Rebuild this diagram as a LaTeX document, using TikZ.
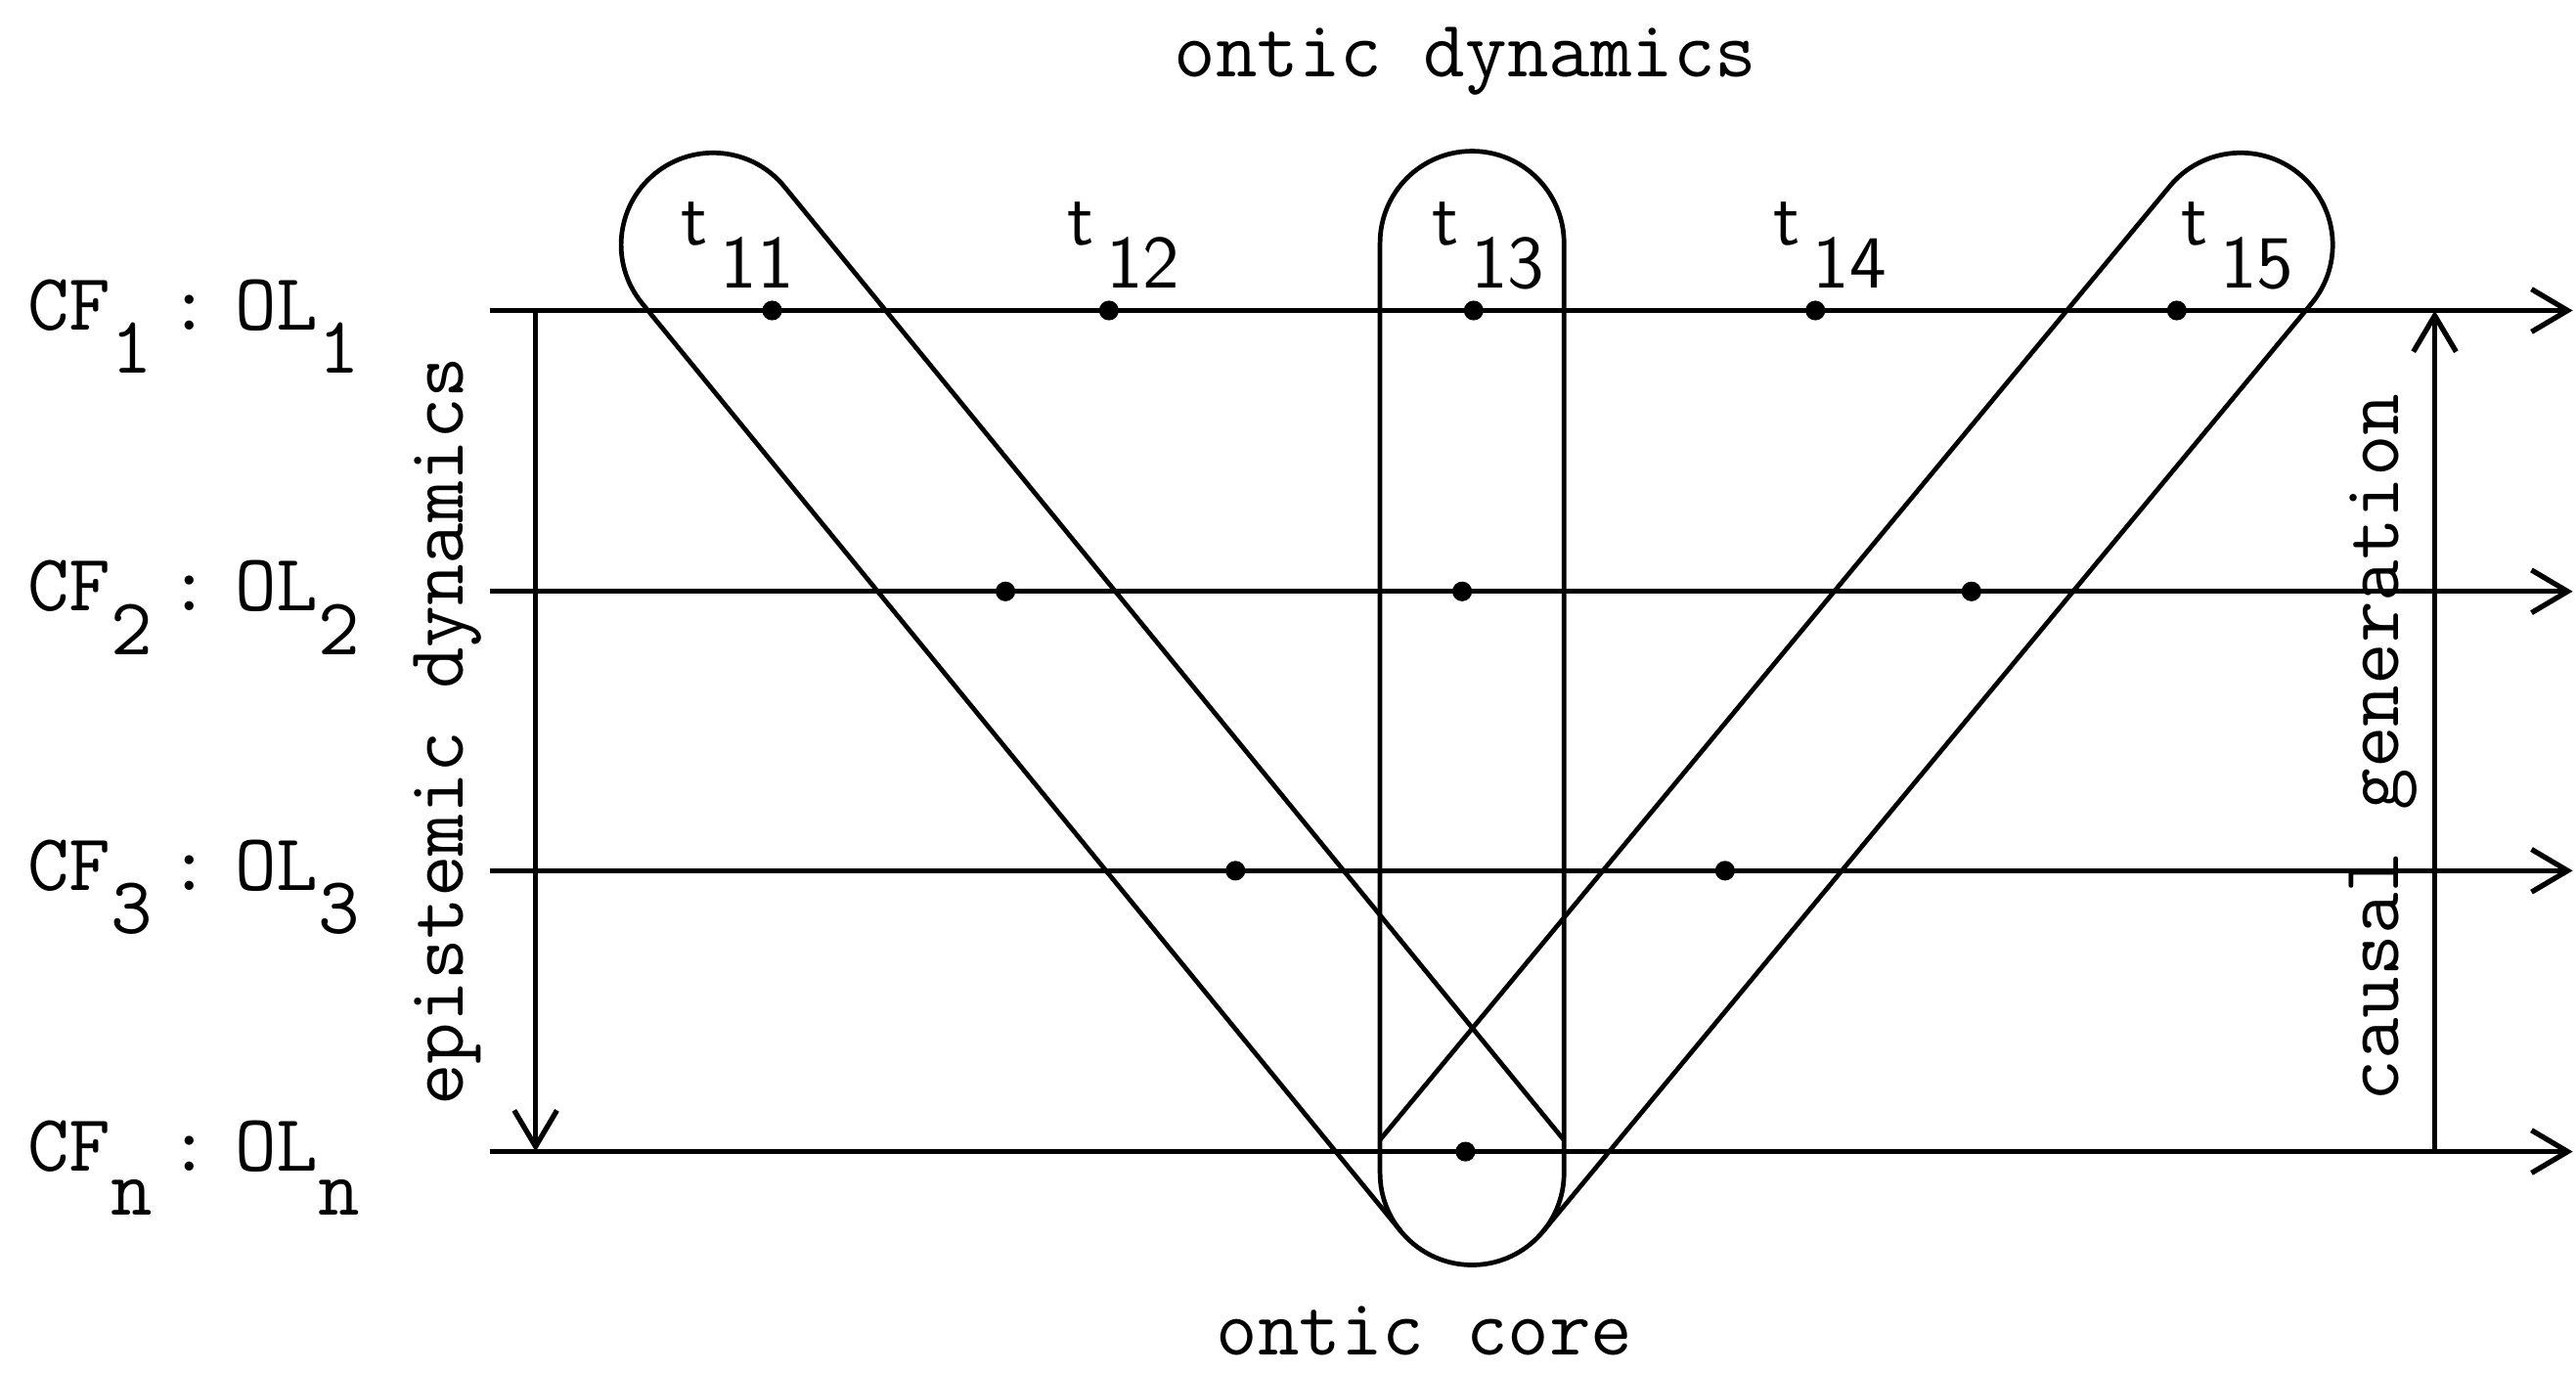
\documentclass[tikz,border=0pt]{standalone}
\usepackage{fontspec}
\usepackage{tikz}
\usetikzlibrary{arrows.meta, calc}
\newcommand{\twfont}{\fontsize{14}{16}\selectfont\ttfamily}
\newcommand{\tsfont}{\fontsize{13}{15}\selectfont\sffamily}
\newcommand{\lowr}[1]{\raisebox{-7.5pt}{#1}}
\newcommand{\cfol}[1]{CF\lowr{#1}\hspace{0.1cm}:\hspace{0.15cm}OL\lowr{#1}}

\begin{document}
\begin{tikzpicture}[>={Straight Barb[length=2.2mm,width=2.6mm]},
        level/.style={line width=0.9pt},
        band/.style={line width=0.8pt},
        dot/.style={circle, fill, inner sep=0pt, minimum size=0.12cm},
        lbl/.style={font=\twfont, inner sep=0pt},
        tlbl/.style={font=\tsfont, inner sep=0pt, anchor=base west}]
        \useasboundingbox (0,0) rectangle (15.68,8.36);

        % Frame labels
        \node[lbl, anchor=base west] (cf1) at (0.16,6.35) {\cfol{1}};
        \node[lbl, anchor=base west] (cf2) at (0.16,4.64) {\cfol{2}};
        \node[lbl, anchor=base west] (cf3) at (0.16,2.94) {\cfol{3}};
        \node[lbl, anchor=base west] (cfn) at (0.16,1.23) {\cfol{n}};

        % Time lines
        \coordinate (a1) at (2.98,6.47); \coordinate (b1) at (15.66,6.47);
        \coordinate (a2) at (2.98,4.76); \coordinate (b2) at (15.66,4.76);
        \coordinate (a3) at (2.98,3.06); \coordinate (b3) at (15.66,3.06);
        \coordinate (an) at (2.98,1.35); \coordinate (bn) at (15.66,1.35);
        \draw[level, ->] (a1) -- (b1);
        \draw[level, ->] (a2) -- (b2);
        \draw[level, ->] (a3) -- (b3);
        \draw[level, ->] (an) -- (bn);

        % Side arrows
        \coordinate (ep1) at (3.26,6.47); \coordinate (epn) at (3.26,1.35);
        \coordinate (cgn) at (14.82,1.35); \coordinate (cg1) at (14.82,6.47);
        \draw[level, ->] (ep1) -- (epn);
        \draw[level, ->] (cgn) -- (cg1);
        \node[lbl, rotate=90, anchor=base] (epi) at (2.82,3.91) {epistemic dynamics};
        \node[lbl, rotate=90, anchor=base] (cau) at (14.60,3.81) {causal generation};

        % Titles
        \node[lbl, anchor=base] (odyn) at (8.92,7.89) {ontic dynamics};
        \node[lbl, anchor=base] (ocore) at (8.67,0.11) {ontic core};

        % Events
        \node[dot] (e11) at (4.70,6.47) {};
        \node[dot] (e12) at (6.75,6.47) {};
        \node[dot] (e13) at (8.97,6.47) {};
        \node[dot] (e14) at (11.05,6.47) {};
        \node[dot] (e15) at (13.25,6.47) {};
        \node[dot] (e21) at (6.12,4.76) {};
        \node[dot] (e22) at (8.90,4.76) {};
        \node[dot] (e23) at (12.00,4.76) {};
        \node[dot] (e31) at (7.52,3.06) {};
        \node[dot] (e32) at (10.50,3.06) {};
        \node[dot] (en1) at (8.92,1.35) {};

        \node[tlbl] (t11) at (4.14,6.87) {t\,\lowr{11}};
        \node[tlbl] (t12) at (6.49,6.87) {t\,\lowr{12}};
        \node[tlbl] (t13) at (8.71,6.87) {t\,\lowr{13}};
        \node[tlbl] (t14) at (10.79,6.87) {t\,\lowr{14}};
        \node[tlbl] (t15) at (13.27,6.87) {t\,\lowr{15}};

        % Ontic bands, all meeting in the core
        \coordinate (core) at (8.96,1.22);
        \begin{scope}[shift={(core)}]
            \draw[band] (-0.56,0) -- (-0.56,5.66) arc[start angle=180, end angle=0, radius=0.56]
                -- (0.56,0) arc[start angle=0, end angle=-180, radius=0.56] -- cycle;
        \end{scope}
        \begin{scope}[shift={(core)}, rotate=39.27]
            \draw[band] (0.56,-0.2) -- (0.56,7.298) arc[start angle=0, end angle=180, radius=0.56]
                -- (-0.56,0);
        \end{scope}
        \begin{scope}[shift={(core)}, rotate=-39.63]
            \draw[band] (-0.56,-0.2) -- (-0.56,7.336) arc[start angle=180, end angle=0, radius=0.56]
                -- (0.56,0);
        \end{scope}
    \end{tikzpicture}
\end{document}
